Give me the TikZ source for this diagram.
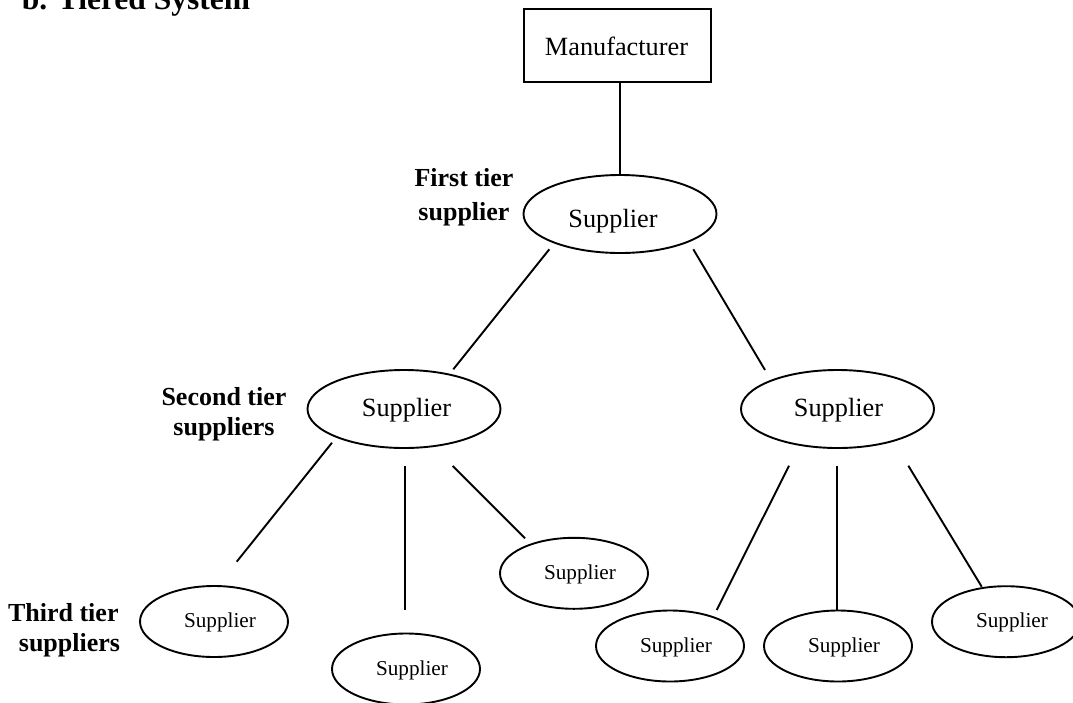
\documentclass[tikz,border=0pt]{standalone}
\usepackage{fontspec}
\setmainfont{Liberation Serif}
\usetikzlibrary{shapes.geometric}
\begin{document}
\begin{tikzpicture}[x=1pt, y=-1pt, line width=1.9pt,
  bigfont/.style={font=\fontsize{26.3}{30}\selectfont},
  smallfont/.style={font=\fontsize{21.2}{25}\selectfont},
  tierlabel/.style={font=\bfseries\fontsize{26}{31}\selectfont, anchor=base, inner sep=0pt},
  boxnode/.style={draw, rectangle, minimum width=187pt, minimum height=73pt, inner sep=0pt},
  bigsup/.style={draw, ellipse, minimum width=193pt, minimum height=78pt, inner sep=0pt},
  leafsup/.style={draw, ellipse, minimum width=148pt, minimum height=71pt, inner sep=0pt},
  nametext/.style n args={3}{label={[anchor=base, inner sep=0pt, bigfont, xshift=#1, yshift=#2]center:#3}},
  leaftext/.style={label={[anchor=base, inner sep=0pt, smallfont, xshift=6pt, yshift=-1pt]center:Supplier}},
  link/.style={line width=1.9pt}
]
\useasboundingbox (0,0) rectangle (1073,702);

% heading
\node[anchor=base west, inner sep=0pt, font=\bfseries\fontsize{31.5}{36}\selectfont] (title) at (21,9.5) {b. Tiered System};

% manufacturer and first tier
\node[boxnode, nametext={-1pt}{-0.5pt}{Manufacturer}] (mfr) at (617.5,45.5) {};
\node[bigsup, nametext={-7pt}{-7pt}{Supplier}] (s1) at (620,214) {};

% second tier
\node[bigsup, nametext={2.5pt}{-1pt}{Supplier}] (s2a) at (404,409) {};
\node[bigsup, nametext={1pt}{-1pt}{Supplier}] (s2b) at (837.5,409) {};

% third tier
\node[leafsup, leaftext] (s3a) at (214,621.5) {};
\node[leafsup, leaftext] (s3b) at (406,669) {};
\node[leafsup, leaftext] (s3c) at (574,573.3) {};
\node[leafsup, leaftext] (s3d) at (670,646) {};
\node[leafsup, leaftext] (s3e) at (838,646) {};
\node[leafsup, leaftext] (s3f) at (1006,621.7) {};

% tier captions
\node[tierlabel] (cap1a) at (464,186.7) {First tier};
\node[tierlabel] (cap1b) at (464,220) {supplier};
\node[tierlabel] (cap2a) at (224,405) {Second tier};
\node[tierlabel] (cap2b) at (224,435) {suppliers};
\node[tierlabel, anchor=base east] (cap3a) at (119.5,621.7) {Third tier};
\node[tierlabel, anchor=base east] (cap3b) at (121,651.7) {suppliers};

% free ends of the connecting strokes
\coordinate (s1L) at (549.3,249.3);  \coordinate (s2aT) at (453.3,369.3);
\coordinate (s1R) at (693.3,249.3);  \coordinate (s2bT) at (765,370);
\coordinate (s2aL) at (332,442.7);   \coordinate (s3aT) at (236.7,561.7);
\coordinate (s2aM) at (405,466);     \coordinate (s3bT) at (405,610);
\coordinate (s2aR) at (452.7,466);   \coordinate (s3cT) at (525,538.3);
\coordinate (s2bL) at (789,465.7);   \coordinate (s3dT) at (716.7,610);
\coordinate (s2bM) at (837,465.7);   \coordinate (s3eT) at (837,610);
\coordinate (s2bR) at (908.3,465.7); \coordinate (s3fT) at (981.7,586.7);

% connections
\draw[link] (s1.north) -- (s1.north |- mfr.south);
\draw[link] (s1L) -- (s2aT);
\draw[link] (s1R) -- (s2bT);
\draw[link] (s2aL) -- (s3aT);
\draw[link] (s2aM) -- (s3bT);
\draw[link] (s2aR) -- (s3cT);
\draw[link] (s2bL) -- (s3dT);
\draw[link] (s2bM) -- (s3eT);
\draw[link] (s2bR) -- (s3fT);
\end{tikzpicture}
\end{document}
